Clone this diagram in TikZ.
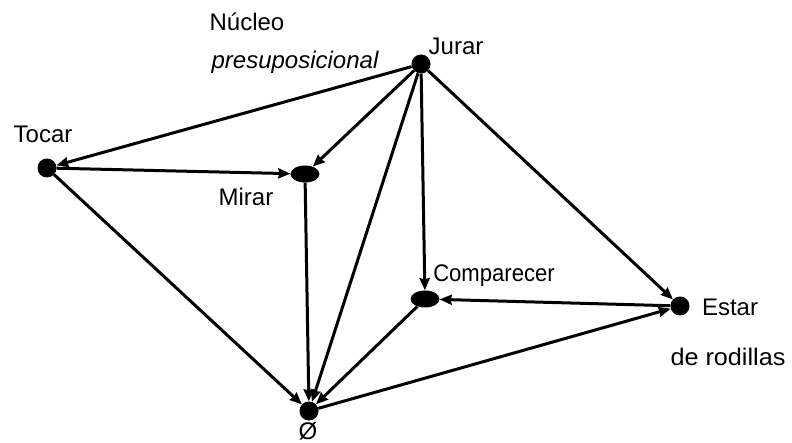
\documentclass[tikz,border=0pt]{standalone}
\usepackage{fontspec}
\usepackage{graphicx}
\setmainfont{Liberation Sans}
\usetikzlibrary{arrows.meta,shapes.geometric}
\begin{document}
\begin{tikzpicture}[x=1pt,y=-1pt,
  dot/.style={circle,fill=black,inner sep=0pt,minimum size=19pt},
  oval/.style={ellipse,fill=black,inner sep=0pt,minimum width=29pt,minimum height=17pt},
  lbl/.style={inner sep=0pt,font=\fontsize{24}{28}\selectfont},
  conn/.style={line width=3pt,-{Stealth[length=12pt,width=10pt,inset=1pt]}}]
\useasboundingbox (0,0) rectangle (792,443);
\node[dot] (jurar) at (421,64) {};
\node[dot] (tocar) at (47,168) {};
\node[oval] (mirar) at (305,174) {};
\node[oval] (comp) at (425,299) {};
\node[dot] (estar) at (680,306) {};
\node[dot] (zero) at (309,411) {};
% labels
\node[lbl] (lnucleo) at (247,22) {Núcleo};
\node[lbl] (lpresup) at (295,62) {\itshape presuposicional};
\node[lbl] (ljurar) at (456,46) {Jurar};
\node[lbl] (ltocar) at (43,134) {Tocar};
\node[lbl] (lmirar) at (246,197) {Mirar};
\node[lbl] (lcomp) at (494,276) {\scalebox{0.92}[1]{Comparecer}};
\node[lbl] (lestar) at (730,307) {Estar};
\node[lbl] (lrod) at (728,357) {\scalebox{1.05}[1]{de rodillas}};
\node[lbl] (lzero) at (308,431) {Ø};
% connectors
\draw[conn] (jurar) -- (tocar);
\draw[conn] (jurar) -- (mirar);
\draw[conn] (jurar) -- (zero);
\draw[conn] (jurar) -- (comp);
\draw[conn] (jurar) -- (estar);
\draw[conn] (tocar) -- (mirar);
\draw[conn] (tocar) -- (zero);
\draw[conn] (mirar) -- (zero);
\draw[conn] (comp) -- (zero);
\draw[conn] (estar) -- (comp);
\draw[conn] (zero) -- (estar);
\end{tikzpicture}
\end{document}
